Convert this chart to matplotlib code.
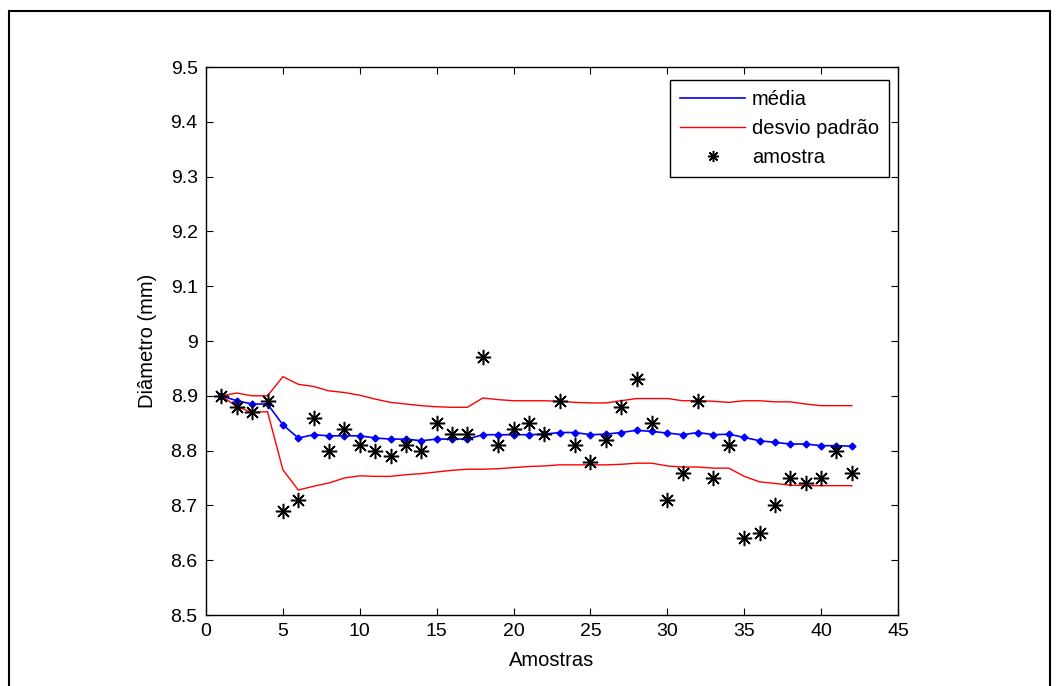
import matplotlib
matplotlib.use("Agg")
import matplotlib.pyplot as plt
from matplotlib.patches import Rectangle

plt.rcParams['font.family'] = ['Liberation Sans', 'DejaVu Sans']

amostras = list(range(1, 43))

# diametro de cada amostra (mm)
amostra = [8.90, 8.88, 8.87, 8.89, 8.69, 8.71, 8.86, 8.80, 8.84, 8.81,
           8.80, 8.79, 8.81, 8.80, 8.85, 8.83, 8.83, 8.97, 8.81, 8.84,
           8.85, 8.83, 8.89, 8.81, 8.78, 8.82, 8.88, 8.93, 8.85, 8.71,
           8.76, 8.89, 8.75, 8.81, 8.64, 8.65, 8.70, 8.75, 8.74, 8.75,
           8.80, 8.76]

media = [8.900, 8.891, 8.885, 8.885, 8.847, 8.823, 8.829, 8.827, 8.827, 8.827,
         8.823, 8.821, 8.821, 8.818, 8.821, 8.821, 8.821, 8.829, 8.829, 8.829,
         8.829, 8.830, 8.833, 8.833, 8.829, 8.830, 8.833, 8.837, 8.835, 8.832,
         8.829, 8.833, 8.829, 8.830, 8.824, 8.818, 8.815, 8.812, 8.812, 8.809,
         8.809, 8.808]

desvio_sup = [8.900, 8.905, 8.900, 8.900, 8.935, 8.921, 8.917, 8.909, 8.906, 8.901,
              8.894, 8.888, 8.885, 8.882, 8.880, 8.879, 8.879, 8.896, 8.893, 8.891,
              8.891, 8.891, 8.890, 8.888, 8.887, 8.887, 8.891, 8.895, 8.895, 8.895,
              8.891, 8.891, 8.890, 8.888, 8.891, 8.891, 8.889, 8.889, 8.885, 8.882,
              8.882, 8.882]

desvio_inf = [8.900, 8.880, 8.870, 8.871, 8.765, 8.728, 8.735, 8.741, 8.750, 8.754,
              8.753, 8.753, 8.756, 8.758, 8.761, 8.764, 8.766, 8.766, 8.767, 8.769,
              8.771, 8.772, 8.774, 8.774, 8.774, 8.774, 8.775, 8.777, 8.777, 8.772,
              8.770, 8.770, 8.768, 8.768, 8.753, 8.743, 8.740, 8.737, 8.736, 8.736,
              8.736, 8.736]

W, H = 1057, 686
fig = plt.figure(figsize=(W / 100, H / 100), dpi=100)
ax = fig.add_axes([206 / W, 1 - 615 / H, (898 - 206) / W, (615 - 67) / H])

# moldura da figura
fig.patches.append(Rectangle((9 / W, -0.05), (1050 - 9) / W, 1.05 - 11 / H,
                             transform=fig.transFigure, fill=False,
                             edgecolor='black', linewidth=1.5))

ax.plot(amostras, media, color='blue', linewidth=1.2, label='média')
ax.plot(amostras, media, color='blue', linestyle='none', marker='D', markersize=3.5)
ax.plot(amostras, desvio_sup, color='red', linewidth=1.0, label='desvio padrão')
ax.plot(amostras, desvio_inf, color='red', linewidth=1.0)
ax.plot(amostras, amostra, color='black', linestyle='none', marker=(8, 2, 0),
        markersize=11, markeredgewidth=1.1, label='amostra')

ax.set_xlim(0, 45)
ax.set_ylim(8.5, 9.5)
ax.set_xticks(range(0, 46, 5))
ax.set_yticks([8.5, 8.6, 8.7, 8.8, 8.9, 9.0, 9.1, 9.2, 9.3, 9.4, 9.5])
ax.set_yticklabels(['8.5', '8.6', '8.7', '8.8', '8.9', '9', '9.1', '9.2', '9.3', '9.4', '9.5'])
ax.tick_params(direction='in', length=5, top=True, right=True, labelsize=14, pad=6)
for s in ax.spines.values():
    s.set_linewidth(1.0)

ax.set_xlabel('Amostras', fontsize=14.5, labelpad=8)
ax.set_ylabel('Diâmetro (mm)', fontsize=14.5, labelpad=10)

leg = ax.legend(loc='upper right', bbox_to_anchor=(889 / W, 1 - 80 / H),
                bbox_transform=fig.transFigure, borderaxespad=0, fontsize=14.5,
                frameon=True, fancybox=False, framealpha=1, edgecolor='black',
                handlelength=3.2, handletextpad=0.35, borderpad=0.5,
                labelspacing=0.5)
leg.get_frame().set_linewidth(1.0)
leg.legend_handles[2].set_markersize(8)

fig.savefig('out.png', dpi=100)
